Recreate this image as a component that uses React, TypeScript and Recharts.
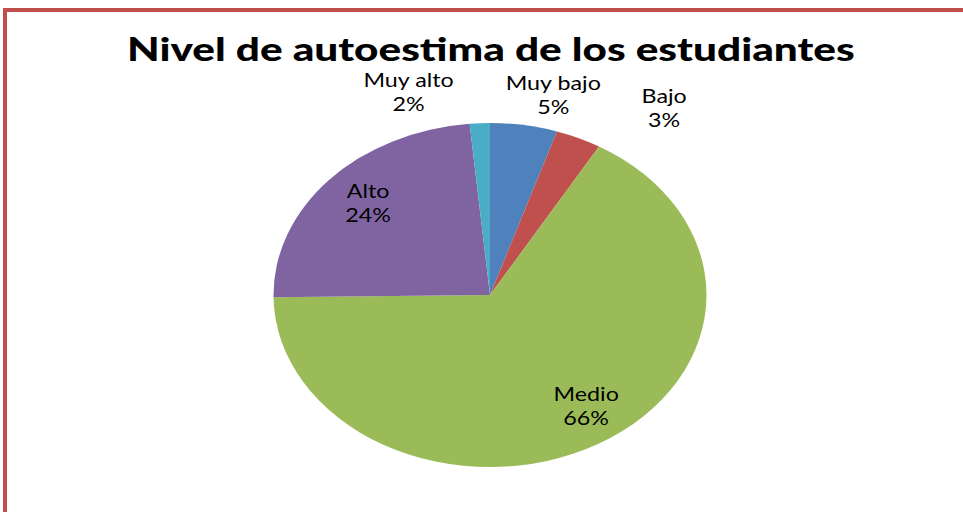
import { PieChart, Pie, Cell } from 'recharts';

const categorias = ['Muy bajo', 'Bajo', 'Medio', 'Alto', 'Muy alto'];
const porcentajes = [5, 3.4, 66.4, 23.7, 1.5];
const etiquetasPct = ['5%', '3%', '66%', '24%', '2%'];
const colores = ['#4F81BD', '#C0504D', '#9BBB59', '#8064A2', '#4BACC6'];

// label placement: radius factor + small nudge (inner px), like Excel's best fit
const radioEtiqueta = [1.2, 1.3, 0.79, 0.78, 1.2];
const ajusteEtiqueta: [number, number][] = [
  [18, 4],
  [47, 18],
  [8, -6],
  [3, -2],
  [-55, 4],
];

const datos = categorias.map((nombre, i) => ({
  nombre,
  valor: porcentajes[i],
  pct: etiquetasPct[i],
}));

// the original picture is stretched sideways, so we draw in a narrower space and stretch it
const ESTIRA_X = 1.2587;
const ANCHO = 963 / ESTIRA_X;
const RAD = Math.PI / 180;

const renderEtiqueta = (props: any) => {
  const { cx, cy, midAngle, outerRadius, index } = props;
  const r = outerRadius * radioEtiqueta[index];
  const [dx, dy] = ajusteEtiqueta[index];
  const x = cx + r * Math.cos(-midAngle * RAD) + dx;
  const yc = cy + r * Math.sin(-midAngle * RAD) + dy;
  const y1 = yc - 5.5;
  return (
    <text
      x={x}
      y={y1}
      textAnchor="middle"
      fill="#000"
      style={{ fontFamily: 'Lato, "Open Sans", sans-serif', fontSize: 18.5 }}
    >
      <tspan x={x} y={y1}>
        {datos[index].nombre}
      </tspan>
      <tspan x={x} y={y1 + 24}>
        {datos[index].pct}
      </tspan>
    </text>
  );
};

export default function App() {
  return (
    <div
      style={{
        position: 'absolute',
        top: 0,
        left: 0,
        width: 963,
        height: 512,
        background: '#fff',
        overflow: 'hidden',
      }}
    >
      <div
        style={{
          position: 'absolute',
          left: 3,
          top: 8,
          width: 960,
          height: 504,
          borderTop: '4px solid #C0504D',
          borderLeft: '4px solid #C0504D',
          boxSizing: 'border-box',
        }}
      />
      <div
        style={{
          position: 'absolute',
          top: 0,
          left: 0,
          width: ANCHO,
          height: 512,
          transform: `scaleX(${ESTIRA_X})`,
          transformOrigin: '0 0',
        }}
      >
        <svg
          width={ANCHO}
          height={80}
          style={{ position: 'absolute', top: 0, left: 0 }}
        >
          <text
            x={390}
            y={61}
            textAnchor="middle"
            textLength={578}
            lengthAdjust="spacingAndGlyphs"
            style={{
              fontFamily: 'Lato, "Open Sans", sans-serif',
              fontWeight: 900,
              fontSize: 33,
            }}
            fill="#000"
          >
            Nivel de autoestima de los estudiantes
          </text>
        </svg>
        <div style={{ position: 'absolute', top: 0, left: 0 }}>
          <PieChart
            width={ANCHO}
            height={512}
            margin={{ top: 0, right: 0, bottom: 0, left: 0 }}
          >
            <Pie
              data={datos}
              dataKey="valor"
              nameKey="nombre"
              cx={389.3}
              cy={295}
              outerRadius={172}
              startAngle={90}
              endAngle={-270}
              stroke="none"
              label={renderEtiqueta}
              labelLine={false}
              isAnimationActive={false}
            >
              {datos.map((d, i) => (
                <Cell key={`cell-${i}`} fill={colores[i]} />
              ))}
            </Pie>
          </PieChart>
        </div>
      </div>
    </div>
  );
}
